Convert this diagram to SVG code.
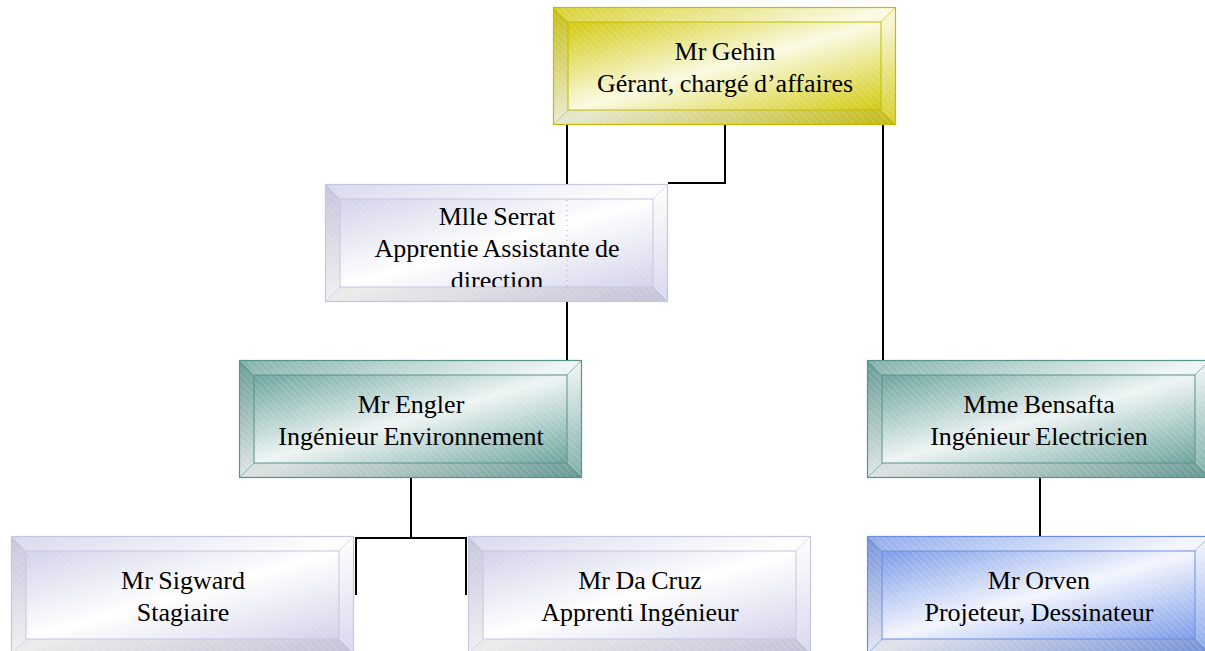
<svg xmlns="http://www.w3.org/2000/svg" xmlns:xlink="http://www.w3.org/1999/xlink" width="1205" height="651" viewBox="0 0 1205 651">
<style>
.cn{fill:none;stroke:#000;stroke-width:2}
.y{color:#c4bc00}
.l{color:#c6c6e2}
.g{color:#5a928c}
.b{color:#6d8ee0}
</style>
<defs>
<linearGradient id="gY" x1="0" y1="0" x2="1" y2="1"><stop offset="0" stop-color="#d2ca10"/><stop offset="0.5" stop-color="#fafae2"/><stop offset="1" stop-color="#d2ca10"/></linearGradient>
<linearGradient id="gL" x1="0" y1="0" x2="1" y2="1"><stop offset="0" stop-color="#d2d2ea"/><stop offset="0.5" stop-color="#ffffff"/><stop offset="1" stop-color="#d2d2ea"/></linearGradient>
<linearGradient id="gG" x1="0" y1="0" x2="1" y2="1"><stop offset="0" stop-color="#6ca49e"/><stop offset="0.5" stop-color="#eef5f4"/><stop offset="1" stop-color="#6ca49e"/></linearGradient>
<linearGradient id="gB" x1="0" y1="0" x2="1" y2="1"><stop offset="0" stop-color="#7c9ce8"/><stop offset="0.5" stop-color="#f4f6fe"/><stop offset="1" stop-color="#7c9ce8"/></linearGradient>
<pattern id="hatch" patternUnits="userSpaceOnUse" width="5" height="5" patternTransform="rotate(-45)"><line x1="0" y1="0" x2="0" y2="5" stroke="#fff" stroke-opacity="0.35" stroke-width="1"/></pattern>
<clipPath id="ic"><rect x="340" y="199" width="313" height="88"/></clipPath>
<g id="bev">
<polygon points="0,0 343,0 328,15 15,15" fill="#fff" fill-opacity="0.15"/>
<polygon points="0,0 15,15 15,103 0,118" fill="#000" fill-opacity="0.06"/>
<polygon points="343,0 343,118 328,103 328,15" fill="#fff" fill-opacity="0.1"/>
<polygon points="0,118 15,103 328,103 343,118" fill="#000" fill-opacity="0.08"/>
<rect width="343" height="118" fill="url(#hatch)"/>
<rect x="0.5" y="0.5" width="342" height="117" fill="none" stroke="currentColor" stroke-width="1.2"/>
<rect x="15" y="15" width="313" height="88" fill="none" stroke="currentColor" stroke-width="1"/>
<path d="M0 0L15 15M343 0L328 15M0 118L15 103M343 118L328 103" stroke="currentColor" stroke-width="1" stroke-opacity="0.6"/>
</g>
</defs>
<rect width="1205" height="651" fill="#fff"/>

<g id="gehin" class="y">
<rect x="553" y="7" width="343" height="118" fill="url(#gY)"/>
<rect x="568" y="22" width="313" height="88" fill="url(#gY)"/>
<use xlink:href="#bev" href="#bev" x="553" y="7"/>
<text font-family="Liberation Serif" font-size="26" text-anchor="middle" word-spacing="-1" x="725" y="60">Mr Gehin</text>
<text font-family="Liberation Serif" font-size="26" text-anchor="middle" word-spacing="-1" x="725" y="92">Gérant, chargé d’affaires</text>
</g>

<g id="serrat" class="l">
<rect x="325" y="184" width="343" height="118" fill="url(#gL)"/>
<rect x="340" y="199" width="313" height="88" fill="url(#gL)"/>
<use xlink:href="#bev" href="#bev" x="325" y="184"/>
<g clip-path="url(#ic)">
<text font-family="Liberation Serif" font-size="26" text-anchor="middle" word-spacing="-1" x="497" y="225">Mlle Serrat</text>
<text font-family="Liberation Serif" font-size="26" text-anchor="middle" word-spacing="-1" x="497" y="257">Apprentie Assistante de</text>
<text font-family="Liberation Serif" font-size="26" text-anchor="middle" word-spacing="-1" x="497" y="289">direction</text>
</g>
</g>

<g id="engler" class="g">
<rect x="239" y="360" width="343" height="118" fill="url(#gG)"/>
<rect x="254" y="375" width="313" height="88" fill="url(#gG)"/>
<use xlink:href="#bev" href="#bev" x="239" y="360"/>
<text font-family="Liberation Serif" font-size="26" text-anchor="middle" word-spacing="-1" x="411" y="413">Mr Engler</text>
<text font-family="Liberation Serif" font-size="26" text-anchor="middle" word-spacing="-1" x="411" y="445">Ingénieur Environnement</text>
</g>

<g id="bensafta" class="g">
<rect x="867" y="360" width="343" height="118" fill="url(#gG)"/>
<rect x="882" y="375" width="313" height="88" fill="url(#gG)"/>
<use xlink:href="#bev" href="#bev" x="867" y="360"/>
<text font-family="Liberation Serif" font-size="26" text-anchor="middle" word-spacing="-1" x="1039" y="413">Mme Bensafta</text>
<text font-family="Liberation Serif" font-size="26" text-anchor="middle" word-spacing="-1" x="1039" y="445">Ingénieur Electricien</text>
</g>

<g id="sigward" class="l">
<rect x="11" y="536" width="343" height="118" fill="url(#gL)"/>
<rect x="26" y="551" width="313" height="88" fill="url(#gL)"/>
<use xlink:href="#bev" href="#bev" x="11" y="536"/>
<text font-family="Liberation Serif" font-size="26" text-anchor="middle" word-spacing="-1" x="183" y="589">Mr Sigward</text>
<text font-family="Liberation Serif" font-size="26" text-anchor="middle" word-spacing="-1" x="183" y="621">Stagiaire</text>
</g>

<g id="dacruz" class="l">
<rect x="468" y="536" width="343" height="118" fill="url(#gL)"/>
<rect x="483" y="551" width="313" height="88" fill="url(#gL)"/>
<use xlink:href="#bev" href="#bev" x="468" y="536"/>
<text font-family="Liberation Serif" font-size="26" text-anchor="middle" word-spacing="-1" x="640" y="589">Mr Da Cruz</text>
<text font-family="Liberation Serif" font-size="26" text-anchor="middle" word-spacing="-1" x="640" y="621">Apprenti Ingénieur</text>
</g>

<g id="orven" class="b">
<rect x="867" y="536" width="343" height="118" fill="url(#gB)"/>
<rect x="882" y="551" width="313" height="88" fill="url(#gB)"/>
<use xlink:href="#bev" href="#bev" x="867" y="536"/>
<text font-family="Liberation Serif" font-size="26" text-anchor="middle" word-spacing="-1" x="1039" y="589">Mr Orven</text>
<text font-family="Liberation Serif" font-size="26" text-anchor="middle" word-spacing="-1" x="1039" y="621">Projeteur, Dessinateur</text>
</g>

<g id="connectors">
<path class="cn" d="M567 125V184M567 302V360"/>
<path d="M567 200V287" fill="none" stroke="#aaa" stroke-width="1" stroke-dasharray="1 4"/>
<path class="cn" d="M725 125V183H668"/>
<path class="cn" d="M883 125V360"/>
<path class="cn" d="M411 478V538M356 595V538H466V595"/>
<path class="cn" d="M1040 478V536"/>
</g>
</svg>
